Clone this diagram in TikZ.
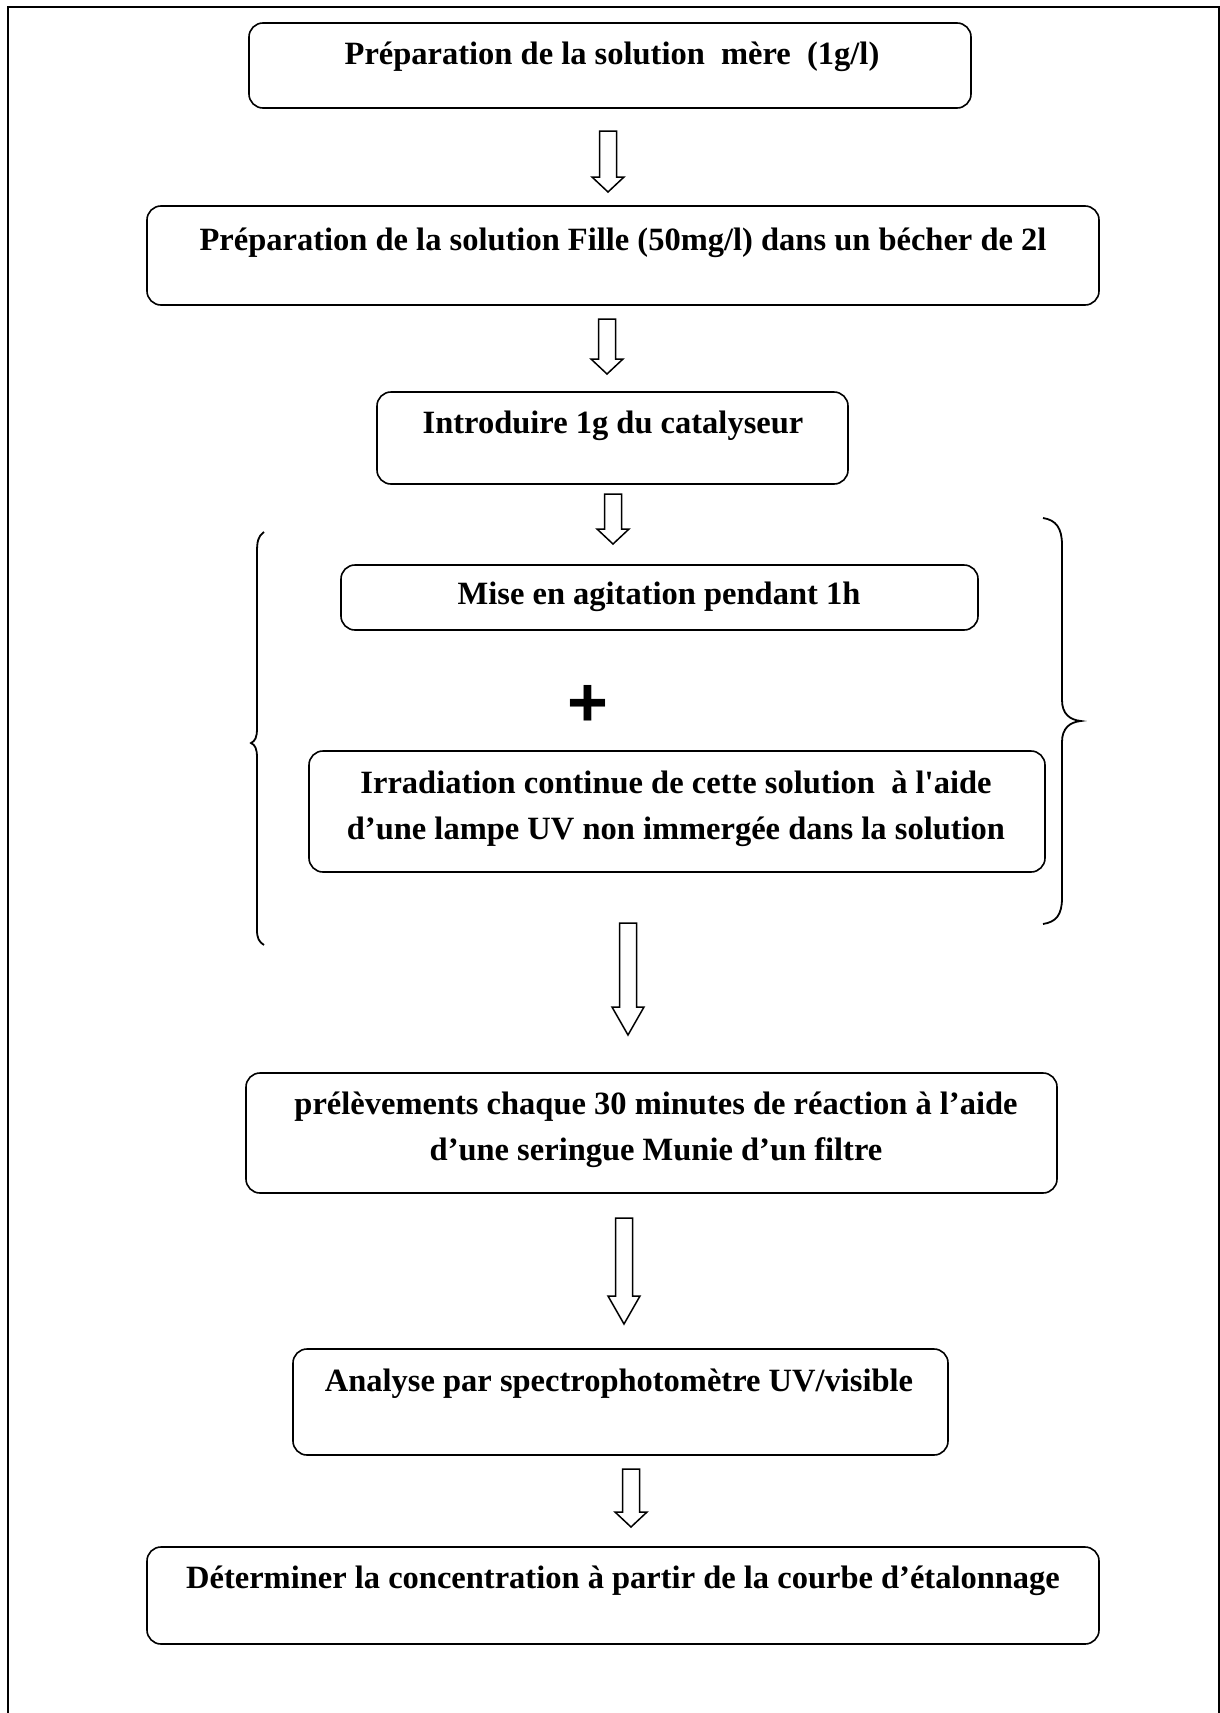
\documentclass[tikz,border=0pt]{standalone}
\usepackage{fontspec}
\setmainfont{Liberation Serif}
\newfontfamily\plusfont{Liberation Sans}
\usetikzlibrary{calc}
\tikzset{
  box/.style={draw, line width=1.6pt, rounded corners=14pt, inner sep=0pt},
  lbl/.style={font=\fontsize{32.5}{46}\selectfont\bfseries, align=center, inner sep=0pt},
  arr/.style={draw, line width=1.5pt, line join=miter, fill=white},
  brc/.style={draw, line width=1.8pt},
}
\newcommand\hollowarrow[5]{%
  \coordinate (#1s) at (#2,#3);
  \coordinate (#1e) at (#2,#4);
  \draw[arr] ($(#1s)+(-8.5,0)$) -- ($(#1s)+(8.5,0)$) -- ($(#1e)+(8.5,-#5)$)
    -- ($(#1e)+(16,-#5)$) -- (#1e) -- ($(#1e)+(-16,-#5)$)
    -- ($(#1e)+(-8.5,-#5)$) -- cycle;
}
\begin{document}
\begin{tikzpicture}[x=1pt,y=-1pt]
\useasboundingbox (0,0) rectangle (1220,1713);
% frame
\draw[line width=2.5pt] (8,1713) -- (8,7) -- (1219,7) -- (1219,1713);

% boxes
\node[box, minimum width=722, minimum height=85] (b1) at (610,65.5) {};
\node[lbl] (t1) at (612,57) {Préparation de la solution\ \ mère\ \ (1g/l)};

\node[box, minimum width=952, minimum height=99] (b2) at (623,255.5) {};
\node[lbl] (t2) at (623,243) {Préparation de la solution Fille (50mg/l) dans un bécher de 2l};

\node[box, minimum width=471, minimum height=92] (b3) at (612.5,438) {};
\node[lbl] (t3) at (613,426) {Introduire 1g du catalyseur};

\node[box, minimum width=637, minimum height=65] (b4) at (659.5,597.5) {};
\node[lbl] (t4) at (659,597) {Mise en agitation pendant 1h};

\node[inner sep=0pt, font=\plusfont\fontsize{70}{70}\selectfont\bfseries] (plus) at (588,706) {+};

\node[box, minimum width=736, minimum height=121] (b5) at (677,811.5) {};
\node[lbl] (t5) at (676,809) {Irradiation continue de cette solution\ \ à l\textquotesingle aide\\d’une lampe UV non immergée dans la solution};

\node[box, minimum width=811, minimum height=120] (b6) at (651.5,1133) {};
\node[lbl] (t6) at (656,1130) {prélèvements chaque 30 minutes de réaction à l’aide\\d’une seringue Munie d’un filtre};

\node[box, minimum width=655, minimum height=106] (b7) at (620.5,1402) {};
\node[lbl] (t7) at (619,1384) {Analyse par spectrophotomètre UV/visible};

\node[box, minimum width=952, minimum height=97] (b8) at (623,1595.5) {};
\node[lbl] (t8) at (623,1581) {Déterminer la concentration à partir de la courbe d’étalonnage};

% arrows
\hollowarrow{a1}{608}{131}{192}{15}
\hollowarrow{a2}{607}{319}{374}{15}
\hollowarrow{a3}{613}{494}{544}{15}
\hollowarrow{a4}{628}{923}{1035}{28}
\hollowarrow{a5}{624}{1218}{1324}{28}
\hollowarrow{a6}{631}{1469}{1527}{15}

% braces
\draw[brc] (264,532) .. controls (258,536) and (257,542) .. (257,552) -- (257,728)
  .. controls (257,738) and (255,741) .. (251,743) .. controls (255,745) and (257,748) .. (257,758)
  -- (257,930) .. controls (257,938) and (259,942) .. (264,945);
\draw[brc] (1043,518) .. controls (1056,520) and (1062,528) .. (1062,545) -- (1062,700)
  .. controls (1062,714) and (1070,720) .. (1081,721) .. controls (1070,722) and (1062,728) .. (1062,742)
  -- (1062,898) .. controls (1062,915) and (1056,922) .. (1043,924);
\end{tikzpicture}
\end{document}
